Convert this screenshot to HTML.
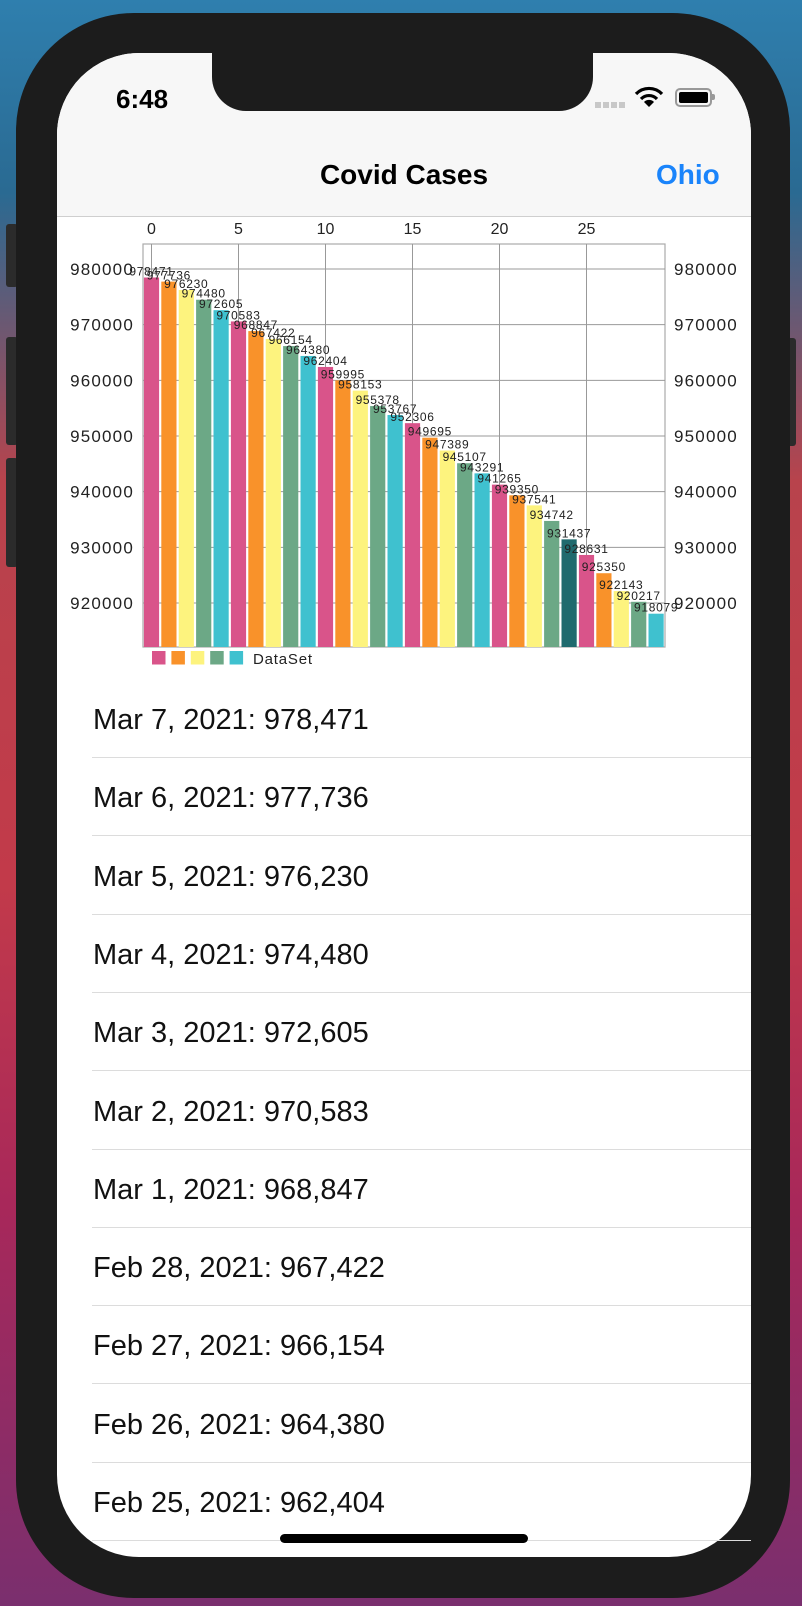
<!DOCTYPE html>
<html><head><meta charset="utf-8">
<style>
html,body{margin:0;padding:0;}
body{width:802px;height:1606px;position:relative;overflow:hidden;font-family:"Liberation Sans",sans-serif;
background:linear-gradient(180deg,#2f7fae 0%,#2a6a92 12%,#b8434c 30%,#c23a4a 55%,#a8285a 75%,#7a2f6e 100%);}
.abs{position:absolute;}
.row{position:absolute;left:93px;font-size:29px;color:#111;height:36px;line-height:36px;white-space:nowrap;}
.sep{position:absolute;left:92px;width:659px;height:1px;background:#dcdcdc;}
</style></head><body>
<div class="abs" style="left:6px;top:224px;width:12px;height:63px;background:#2b2b2b;border-radius:3px"></div>
<div class="abs" style="left:6px;top:337px;width:12px;height:108px;background:#2b2b2b;border-radius:3px"></div>
<div class="abs" style="left:6px;top:458px;width:12px;height:109px;background:#2b2b2b;border-radius:3px"></div>
<div class="abs" style="left:784px;top:338px;width:12px;height:108px;background:#2b2b2b;border-radius:3px"></div>
<div class="abs" style="left:16px;top:13px;width:774px;height:1585px;background:#1c1c1c;border-radius:118px"></div>
<div class="abs" style="left:57px;top:53px;width:694px;height:1504px;background:#fff;border-radius:82px;overflow:hidden">
  <div class="abs" style="left:0;top:0;width:694px;height:163px;background:#f7f7f7;border-bottom:1px solid #cfcfcf"></div>
</div>
<div class="abs" style="left:212px;top:50px;width:381px;height:61px;background:#1c1c1c;border-radius:0 0 34px 34px"></div>
<div class="abs" style="left:116px;top:84px;font-size:26px;font-weight:bold;color:#000">6:48</div>
<div class="abs" style="left:595px;top:102px;width:32px;height:6px;background:repeating-linear-gradient(90deg,#c8c8c8 0 6px,transparent 6px 8px)"></div>
<svg class="abs" style="left:634px;top:86px" width="30" height="22" viewBox="0 0 30 22">
<path d="M2 8 A18 18 0 0 1 28 8" stroke="#000" stroke-width="3.2" fill="none"/>
<path d="M7 13 A11 11 0 0 1 23 13" stroke="#000" stroke-width="3.2" fill="none"/>
<path d="M15 21 L10 16 A7 7 0 0 1 20 16 Z" fill="#000"/></svg>
<div class="abs" style="left:675px;top:88px;width:33px;height:15px;border:2px solid #999;border-radius:5px;padding:0"><div style="margin:2px;height:11px;background:#000;border-radius:2px"></div></div>
<div class="abs" style="left:712px;top:94px;width:3px;height:6px;background:#999;border-radius:0 2px 2px 0"></div>
<div class="abs" style="left:254px;width:300px;text-align:center;top:159px;font-size:28px;font-weight:bold;color:#000">Covid Cases</div>
<div class="abs" style="left:656px;top:159px;font-size:28px;font-weight:bold;color:#1a84fb">Ohio</div>

<svg id="chart" class="abs" style="left:0;top:0" width="802" height="680"></svg>

<div id="list"></div>
<div class="abs" style="left:280px;top:1534px;width:248px;height:9px;background:#000;border-radius:5px"></div>

<script>
const values=[978471,977736,976230,974480,972605,970583,968847,967422,966154,964380,962404,959995,958153,955378,953767,952306,949695,947389,945107,943291,941265,939350,937541,934742,931437,928631,925350,922143,920217,918079];
const yTicks=[920000,930000,940000,950000,960000,970000,980000];
const xTicks=[0,5,10,15,20,25];
const palette=["#d9548a","#f9922a","#fdf37e","#6ca886","#3fc1cf"];
const highlightIndex=24;
const dates=["Mar 7, 2021","Mar 6, 2021","Mar 5, 2021","Mar 4, 2021","Mar 3, 2021","Mar 2, 2021","Mar 1, 2021","Feb 28, 2021","Feb 27, 2021","Feb 26, 2021","Feb 25, 2021"];

const NS="http://www.w3.org/2000/svg";
const svg=document.getElementById('chart');
const L=143,R=665,T=244,B=647;
function yS(v){return 269+(980000-v)*334/60000;}
function xS(i){return 151.5+17.4*i;}
function mk(tag,attrs,parent){const e=document.createElementNS(NS,tag);for(const k in attrs)e.setAttribute(k,attrs[k]);(parent||svg).appendChild(e);return e;}
const box=mk('rect',{x:L,y:T,width:R-L,height:B-T,fill:'none',stroke:'#aaa','stroke-width':1.2});


yTicks.forEach(v=>{
  const g=mk('line',{x1:L,x2:R,y1:yS(v),y2:yS(v),stroke:'#999','stroke-width':1});
  
  
  const t1=mk('text',{x:134,y:yS(v)+6,'text-anchor':'end','font-size':17,'letter-spacing':1.2,fill:'#222'});t1.textContent=v;
  
  
  const t2=mk('text',{x:674,y:yS(v)+6,'font-size':17,'letter-spacing':1.2,fill:'#222'});t2.textContent=v;
  
  
});
xTicks.forEach(i=>{
  const g=mk('line',{x1:xS(i),x2:xS(i),y1:T,y2:B,stroke:'#999','stroke-width':1});
  
  
  const t=mk('text',{x:xS(i),y:234,'text-anchor':'middle','font-size':16,fill:'#222'});t.textContent=i;
  
  
});
values.forEach((v,i)=>{
  const c=i===highlightIndex?"#1f6a6e":palette[i%5];
  const y=yS(v);
  const b=mk('rect',{x:xS(i)-7.6,y:y,width:15.2,height:B-y,fill:c});
  
  
  const t=mk('text',{x:xS(i),y:y-2,'text-anchor':'middle','font-size':12,'letter-spacing':0.7,fill:'#222'});t.textContent=v;
  
  
});
for(let k=0;k<5;k++){
  const s=mk('rect',{x:152+k*19.4,y:651,width:13.5,height:13.5,fill:palette[k]});
  
  
}
const lt=mk('text',{x:253,y:664,'font-size':15,'letter-spacing':0.8,fill:'#222'});lt.textContent="DataSet";



const list=document.getElementById('list');
dates.forEach((d,i)=>{
  const r=document.createElement('div');
  r.className='row';
  r.style.top=(702+i*78.3)+'px';
  r.textContent=d+": "+values[i].toLocaleString('en-US');
  
  
  list.appendChild(r);
  const s=document.createElement('div');
  s.className='sep';
  s.style.top=(757+i*78.3)+'px';
  
  
  list.appendChild(s);
});
</script>
</body></html>
